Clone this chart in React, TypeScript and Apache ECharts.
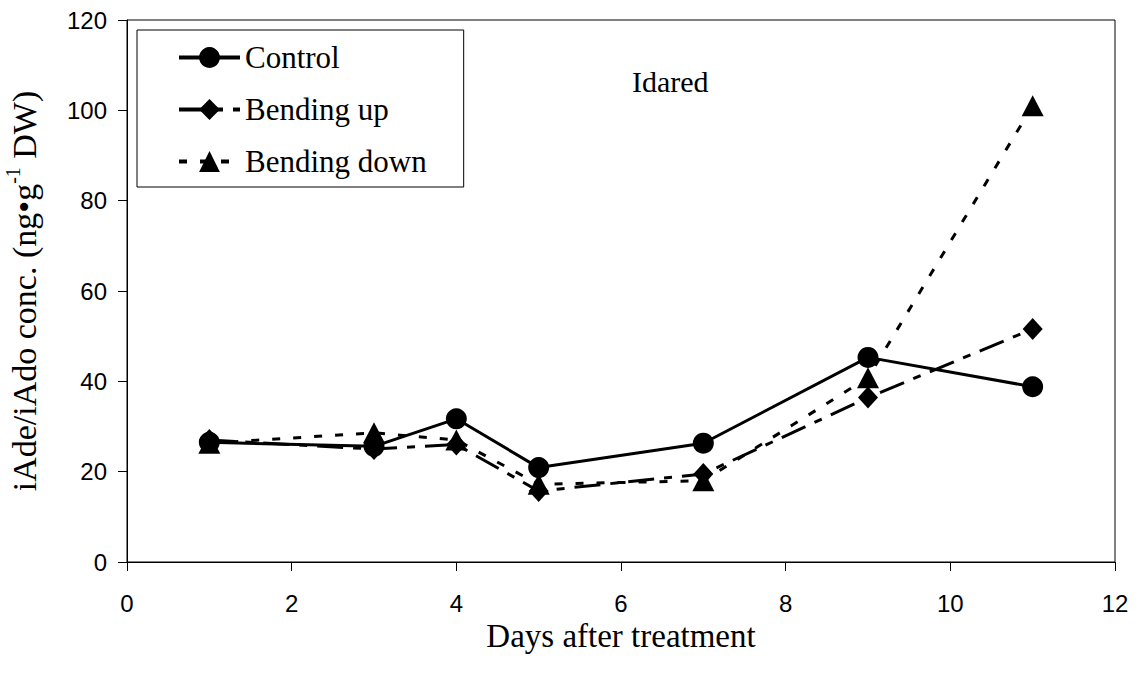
import React, { useEffect, useRef } from "react";
import * as echarts from "echarts";

const days = [1, 3, 4, 5, 7, 9, 11];
const control = [26.5, 25.6, 31.7, 20.9, 26.3, 45.3, 38.8];
const bendingUp = [27.0, 25.0, 26.0, 15.7, 19.5, 36.4, 51.6];
const bendingDown = [26.3, 28.6, 27.0, 17.2, 18.0, 40.8, 101.0];
const xTicks = { min: 0, max: 12, interval: 2 };
const yTicks = { min: 0, max: 120, interval: 20 };

const serif = "'Liberation Serif', 'Times New Roman', serif";
const sans = "'Liberation Sans', Arial, sans-serif";

const pairs = (vals: number[]) => days.map((d, i) => [d, vals[i]]);

export default function App() {
  const ref = useRef<HTMLDivElement>(null);
  useEffect(() => {
    if (!ref.current) return;
    const chart = echarts.init(ref.current, undefined, { renderer: "svg" });
    chart.setOption({
      animation: false,
      backgroundColor: "#fff",
      grid: {
        left: 127,
        right: 23,
        top: 20,
        bottom: 115,
        show: true,
        borderColor: "#000",
        borderWidth: 1,
        outerBoundsMode: "none",
        containLabel: false,
      },
      legend: {
        orient: "vertical",
        left: 137,
        top: 30,
        padding: [12, 37, 10, 40],
        itemWidth: 61,
        itemHeight: 26,
        itemGap: 21,
        borderColor: "#000",
        borderWidth: 1,
        lineStyle: { width: 4 },
        textStyle: {
          fontFamily: serif,
          fontSize: 31,
          color: "#000",
          lineHeight: 30,
        },
        data: [
          { name: "Control", lineStyle: { width: 4 } },
          { name: "Bending up", lineStyle: { width: 4 } },
          { name: "Bending down", lineStyle: { width: 4 } },
        ],
      },
      graphic: [
        {
          type: "text",
          left: 632,
          top: 66,
          style: {
            text: "Idared",
            fontFamily: serif,
            fontSize: 30,
            fill: "#000",
          },
        },
      ],
      xAxis: {
        type: "value",
        min: xTicks.min,
        max: xTicks.max,
        interval: xTicks.interval,
        name: "Days after treatment",
        nameLocation: "middle",
        nameGap: 64,
        nameMoveOverlap: false,
        nameTextStyle: { fontFamily: serif, fontSize: 33, lineHeight: 20, color: "#000" },
        axisLine: { lineStyle: { color: "#000", width: 1 } },
        axisTick: { inside: false, length: 9, lineStyle: { color: "#000" } },
        axisLabel: { fontFamily: sans, fontSize: 24, lineHeight: 20, color: "#000", margin: 31 },
        splitLine: { show: false },
      },
      yAxis: {
        type: "value",
        min: yTicks.min,
        max: yTicks.max,
        interval: yTicks.interval,
        name: "{a|iAde/iAdo conc. (ng•g}{sup|-1}{a| DW)}",
        nameLocation: "middle",
        nameGap: 86,
        nameMoveOverlap: false,
        nameRotate: 90,
        nameTextStyle: {
          fontFamily: serif,
          fontSize: 34,
          color: "#000",
          rich: {
            a: { fontFamily: serif, fontSize: 34, color: "#000", lineHeight: 38, verticalAlign: "bottom" },
            sup: { fontFamily: serif, fontSize: 20, color: "#000", lineHeight: 38, verticalAlign: "top", padding: [0, 0, 15, 0] },
          },
        },
        axisLine: { show: true, lineStyle: { color: "#000", width: 1 } },
        axisTick: { show: true, inside: false, length: 9, lineStyle: { color: "#000" } },
        axisLabel: { fontFamily: sans, fontSize: 24, color: "#000", margin: 20 },
        splitLine: { show: false },
      },
      series: [
        {
          name: "Control",
          type: "line",
          data: pairs(control),
          symbol: "circle",
          symbolSize: 21,
          itemStyle: { color: "#000" },
          lineStyle: { color: "#000", width: 3, type: "solid" },
          z: 3,
        },
        {
          name: "Bending up",
          type: "line",
          data: pairs(bendingUp),
          symbol: "diamond",
          symbolSize: [20, 22],
          itemStyle: { color: "#000" },
          lineStyle: { color: "#000", width: 3, type: [26, 10, 8, 10] },
          z: 2,
        },
        {
          name: "Bending down",
          type: "line",
          data: pairs(bendingDown),
          symbol: "triangle",
          symbolSize: [22, 21],
          itemStyle: { color: "#000" },
          lineStyle: { color: "#000", width: 3, type: [8, 13] },
          z: 2,
        },
      ],
    });
    return () => chart.dispose();
  }, []);
  return (
    <div
      ref={ref}
      style={{ position: "fixed", left: 0, top: 0, width: 1138, height: 677 }}
    />
  );
}
